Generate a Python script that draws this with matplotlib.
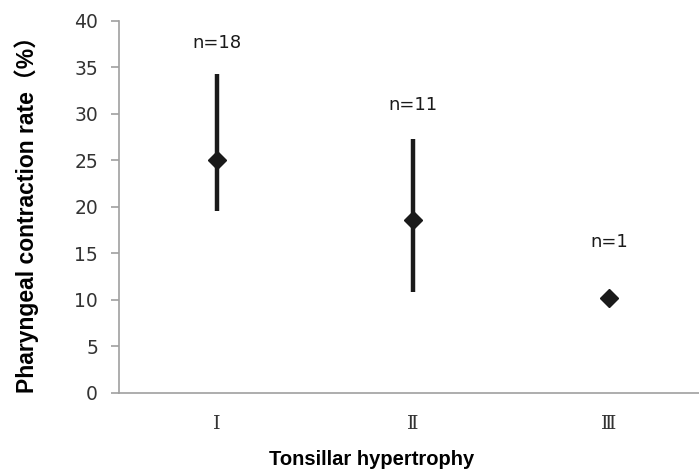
import numpy as np
import matplotlib
matplotlib.use('Agg')
import matplotlib.pyplot as plt

# Datos
grupos = ['Ⅰ', 'Ⅱ', 'Ⅲ']
media = [25.0, 18.6, 10.2]
sup = [34.3, 27.3, 10.2]
inf = [19.6, 10.9, 10.2]
etiquetas_n = ['n=18', 'n=11', 'n=1']
y_etiquetas = [37.6, 31.0, 16.2]

fig = plt.figure(figsize=(6.99, 4.74), dpi=100)
ax = fig.add_axes([0.170, 0.171, 0.830, 0.785])

x = np.arange(len(grupos))
media = np.array(media)
err = [media - np.array(inf), np.array(sup) - media]
ax.errorbar(x, media, yerr=err, fmt='D', color='#1a1a1a', ecolor='#1a1a1a',
            elinewidth=3.2, capsize=0, markersize=9.5)

for xi, yi, t in zip(x, y_etiquetas, etiquetas_n):
    ax.text(xi, yi, t, ha='center', va='center', fontsize=13,
            family='DejaVu Sans', color='#1a1a1a')

ax.set_xlim(-0.5, 2.46)
ax.set_ylim(0, 40)
ax.set_yticks(np.arange(0, 41, 5))
ax.set_xticks(x)
ax.set_xticklabels(grupos, family=['DejaVu Serif', 'Noto Sans CJK JP'],
                   fontsize=14, color='#333333')
ax.tick_params(axis='x', length=0, pad=16)
ax.tick_params(axis='y', length=6, width=1.2, color='#a0a0a0', labelsize=13.5,
               labelcolor='#333333', pad=9)

for s in ['top', 'right']:
    ax.spines[s].set_visible(False)
for s in ['left', 'bottom']:
    ax.spines[s].set_color('#a0a0a0')
    ax.spines[s].set_linewidth(1.2)

ax.set_ylabel('Pharyngeal contraction rate（%）', fontsize=16.5, fontweight='bold',
              family=['Liberation Sans', 'Noto Sans CJK JP'])
ax.yaxis.set_label_coords(-0.138, 0.494)
ax.set_xlabel('Tonsillar hypertrophy', fontsize=14.5, fontweight='bold',
              family='Liberation Sans')
ax.xaxis.set_label_coords(0.436, -0.152)

fig.savefig('out.png', dpi=100)
